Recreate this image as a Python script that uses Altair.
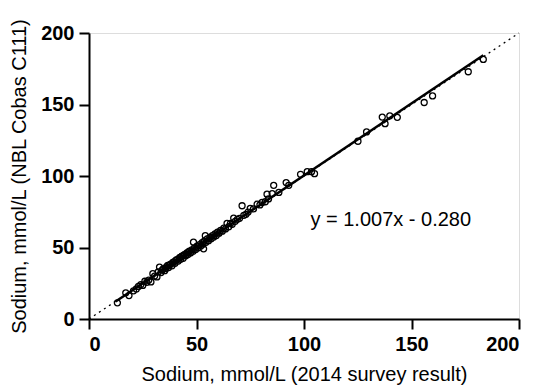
import altair as alt
import pandas as pd

# Measured values: survey result (x) vs NBL Cobas C111 (y), mmol/L
survey = [13.2, 17.1, 18.6, 20.7, 22.0, 23.0, 24.1, 25.0, 26.0, 26.9, 27.8, 28.8, 29.7, 30.5,
          31.6, 32.2, 32.8, 33.5, 34.0, 34.5, 35.2, 35.8, 36.0, 36.6, 37.0, 37.5, 38.0, 38.6,
          39.0, 39.5, 40.0, 40.4, 40.8, 41.5, 42.0, 42.3, 42.6, 43.2, 43.8, 44.1, 44.4, 45.0,
          45.5, 46.0, 46.3, 46.7, 47.2, 47.8, 48.4, 48.6, 49.0, 49.6, 50.2, 50.8, 51.4, 52.0,
          52.6, 53.0, 53.3, 53.6, 54.1, 54.4, 55.0, 55.6, 56.2, 56.8, 57.4, 58.0, 58.6, 59.2,
          59.8, 60.5, 61.2, 62.0, 62.7, 63.5, 64.2, 65.0, 65.8, 66.6, 67.3, 68.0, 69.0, 70.0,
          71.2, 72.0, 73.0, 74.0, 75.0, 76.5, 78.2, 79.5, 80.5, 82.0, 82.8, 83.5, 85.2, 85.9,
          88.3, 91.7, 92.9, 98.4, 101.5, 103.5, 104.9, 125.1, 129.1, 136.4, 137.7, 139.9, 143.4,
          155.9, 159.8, 176.4, 183.4]
cobas = [11.3, 18.3, 16.4, 19.7, 21.0, 22.8, 24.1, 23.5, 26.4, 25.7, 27.2, 25.9, 31.7, 30.0,
         29.4, 32.9, 36.3, 32.5, 34.2, 35.0, 33.8, 35.4, 36.5, 37.4, 36.0, 37.9, 38.4, 37.2,
         39.6, 39.9, 39.0, 41.0, 41.5, 40.5, 42.6, 43.1, 41.8, 43.9, 42.5, 44.6, 45.0, 44.2,
         46.3, 45.1, 46.9, 47.5, 46.2, 48.3, 47.4, 53.7, 49.5, 48.6, 50.9, 49.8, 52.0, 51.0,
         53.4, 52.3, 49.1, 54.5, 58.3, 53.6, 56.0, 54.8, 57.1, 56.2, 58.3, 57.3, 59.5, 58.4,
         60.7, 60.0, 61.9, 61.4, 63.5, 63.0, 66.9, 64.5, 66.8, 66.2, 70.6, 68.3, 69.7, 70.4,
         79.2, 72.5, 73.2, 74.8, 77.4, 77.0, 80.3, 79.8, 81.5, 82.0, 87.3, 84.0, 87.7, 93.5,
         88.5, 95.4, 93.5, 101.2, 103.0, 103.0, 101.6, 124.3, 130.8, 141.2, 136.6, 142.1, 141.0,
         151.4, 156.0, 172.9, 181.5]

# Fitted line (slope, intercept) and its x-extent
slope = 1.007
intercept = -0.280
fit_x = [12.4, 183.4]

# Line of identity
identity = [0, 200]

# Annotation
label_text = ["y = 1.007x - 0.280"]
label_x = [103]
label_y = [69]

ticks = [0, 50, 100, 150, 200]

pts = pd.DataFrame({"x": survey, "y": cobas})
fit = pd.DataFrame({"x": fit_x})
ident = pd.DataFrame({"x": identity, "y": identity})
ann = pd.DataFrame({"t": label_text, "x": label_x, "y": label_y})

FONT = "Liberation Sans"

xscale = alt.Scale(domain=[0, 200], nice=False, zero=False)
yscale = alt.Scale(domain=[0, 200], nice=False, zero=False)

xaxis = alt.Axis(title="Sodium, mmol/L (2014 survey result)", values=ticks, grid=False,
                 domainWidth=2, domainColor="black", tickWidth=2, tickColor="black",
                 tickSize=10, labelFont=FONT, labelFontSize=20, labelFontWeight="bold",
                 labelColor="black", labelPadding=5, titleFont=FONT, titleFontSize=20,
                 titleFontWeight="normal", titleColor="black", titlePadding=10)
yaxis = alt.Axis(title="Sodium, mmol/L (NBL Cobas C111)", values=ticks, grid=False,
                 domainWidth=2, domainColor="black", tickWidth=2, tickColor="black",
                 tickSize=10, labelFont=FONT, labelFontSize=20, labelFontWeight="bold",
                 labelColor="black", labelPadding=5, titleFont=FONT, titleFontSize=20,
                 titleFontWeight="normal", titleColor="black", titlePadding=11)

ident_layer = alt.Chart(ident).mark_line(color="black", strokeWidth=1.3, strokeDash=[2, 4]).encode(
    x=alt.X("x:Q", scale=xscale, axis=xaxis),
    y=alt.Y("y:Q", scale=yscale, axis=yaxis),
)

pt_layer = alt.Chart(pts).mark_point(shape="circle", filled=False, color="black",
                                     strokeWidth=1.3, size=36, opacity=1).encode(
    x=alt.X("x:Q", scale=xscale),
    y=alt.Y("y:Q", scale=yscale),
)

fit_layer = alt.Chart(fit).transform_calculate(
    y=f"{slope} * datum.x + ({intercept})"
).mark_line(color="black", strokeWidth=2.5).encode(
    x=alt.X("x:Q", scale=xscale),
    y=alt.Y("y:Q", scale=yscale),
)

txt_layer = alt.Chart(ann).mark_text(align="left", baseline="middle", font=FONT,
                                     fontSize=20, color="black").encode(
    x=alt.X("x:Q", scale=xscale),
    y=alt.Y("y:Q", scale=yscale),
    text="t:N",
)

chart = alt.layer(ident_layer, pt_layer, fit_layer, txt_layer).properties(
    width=430, height=286,
    autosize=alt.AutoSizeParams(type="none"),
    padding={"left": 81, "top": 25, "right": 12, "bottom": 66},
).configure_view(stroke=None).configure(background="white")

chart.save("out.html", embed_options={"renderer": "svg", "actions": False})
